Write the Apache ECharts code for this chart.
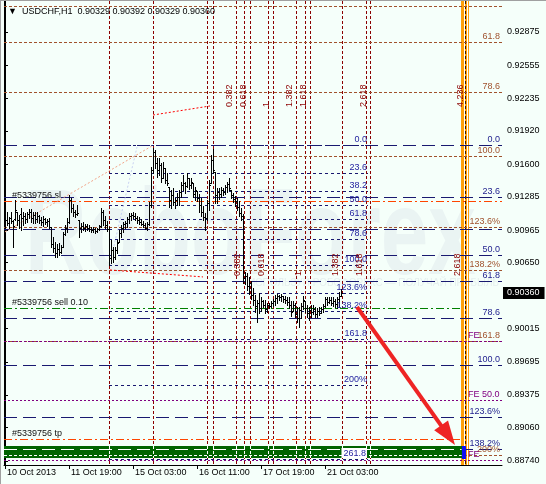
<!DOCTYPE html>
<html><head><meta charset="utf-8">
<script src="https://cdn.jsdelivr.net/npm/echarts@6.0.0/dist/echarts.min.js"></script>
<style>
html,body{margin:0;padding:0;background:#F5FFFA;overflow:hidden;}
#frame{position:absolute;left:0;top:0;width:546px;height:484px;box-sizing:border-box;border-left:1px solid #A0A0A0;border-top:1px solid #A0A0A0;}
#chart{position:absolute;left:1px;top:1px;width:545px;height:483px;}
</style></head><body><div id="frame"></div><div id="chart"></div>
<script>
// ---------------- DATA ----------------
const symbolName = 'USDCHF,H1';
const barOpen = [0.91110,0.91062,0.91033,0.91082,0.91053,0.91072,0.91139,0.91062,0.91120,0.91082,
0.91101,0.91072,0.91120,0.91139,0.91082,0.91110,0.91072,0.91101,0.91062,0.91043,
0.91072,0.91043,0.91053,0.90995,0.90831,0.90792,0.90744,0.90783,0.90754,0.90802,
0.90927,0.90985,0.91043,0.91255,0.91178,0.91139,0.91120,0.91062,0.90985,0.91004,
0.90985,0.91004,0.90985,0.90976,0.90966,0.90976,0.90956,0.90976,0.91004,0.91139,
0.91062,0.91014,0.90976,0.90696,0.90773,0.90706,0.90773,0.90850,0.90937,0.90985,
0.91024,0.91033,0.91072,0.91101,0.91110,0.91101,0.91082,0.91062,0.91043,0.91024,
0.91014,0.90985,0.91024,0.91207,0.91544,0.91718,0.91612,0.91544,0.91592,0.91467,
0.91563,0.91448,0.91380,0.91255,0.91303,0.91236,0.91255,0.91284,0.91332,0.91400,
0.91419,0.91390,0.91467,0.91400,0.91419,0.91313,0.91342,0.91274,0.91207,0.91139,
0.91091,0.91082,0.91226,0.91419,0.91641,0.91525,0.91303,0.91332,0.91313,0.91351,
0.91332,0.91380,0.91409,0.91351,0.91303,0.91265,0.91245,0.91188,0.91130,0.91101,
0.90503,0.90522,0.90426,0.90455,0.90339,0.90291,0.90233,0.90262,0.90214,0.90281,
0.90243,0.90204,0.90243,0.90233,0.90262,0.90281,0.90310,0.90329,0.90320,0.90329,
0.90301,0.90291,0.90272,0.90243,0.90185,0.90243,0.90156,0.90117,0.90195,0.90233,
0.90281,0.90214,0.90166,0.90195,0.90175,0.90204,0.90156,0.90185,0.90166,0.90204,
0.90233,0.90301,0.90272,0.90291,0.90262,0.90281,0.90252,0.90301,0.90329];
const barHigh = [0.91178,0.91139,0.91091,0.91139,0.91062,0.91255,0.91139,0.91110,0.91178,0.91139,
0.91130,0.91139,0.91168,0.91168,0.91139,0.91139,0.91139,0.91110,0.91091,0.91101,
0.91082,0.91072,0.91082,0.90995,0.90898,0.90850,0.90831,0.90841,0.90821,0.90947,
0.91014,0.91082,0.91303,0.91274,0.91217,0.91159,0.91207,0.91062,0.91033,0.91043,
0.91024,0.91024,0.91014,0.90995,0.90995,0.90985,0.90985,0.91014,0.91178,0.91159,
0.91101,0.91053,0.90995,0.90869,0.90802,0.90802,0.90869,0.90966,0.91014,0.91043,
0.91053,0.91091,0.91130,0.91130,0.91139,0.91130,0.91101,0.91091,0.91072,0.91053,
0.91033,0.91043,0.91236,0.91573,0.91756,0.91737,0.91660,0.91660,0.91612,0.91621,
0.91563,0.91515,0.91380,0.91351,0.91371,0.91274,0.91323,0.91351,0.91429,0.91496,
0.91429,0.91515,0.91467,0.91467,0.91419,0.91380,0.91342,0.91313,0.91274,0.91197,
0.91130,0.91255,0.91448,0.91689,0.91747,0.91525,0.91371,0.91371,0.91380,0.91371,
0.91400,0.91429,0.91467,0.91351,0.91323,0.91294,0.91274,0.91245,0.91178,0.91120,
0.90561,0.90551,0.90513,0.90474,0.90407,0.90339,0.90291,0.90358,0.90320,0.90291,
0.90291,0.90262,0.90262,0.90281,0.90301,0.90339,0.90349,0.90339,0.90349,0.90329,
0.90329,0.90320,0.90320,0.90281,0.90281,0.90262,0.90223,0.90223,0.90262,0.90329,
0.90281,0.90243,0.90223,0.90243,0.90243,0.90223,0.90214,0.90223,0.90223,0.90252,
0.90320,0.90320,0.90320,0.90320,0.90320,0.90301,0.90320,0.90368,0.90392];
const barLow = [0.90995,0.91014,0.90985,0.91033,0.90802,0.91062,0.91014,0.90985,0.90966,0.91014,
0.91033,0.91043,0.91082,0.91043,0.91033,0.91033,0.91043,0.91033,0.91014,0.91004,
0.91024,0.91004,0.90985,0.90802,0.90754,0.90706,0.90706,0.90725,0.90744,0.90802,
0.90918,0.90947,0.91033,0.91139,0.91101,0.91091,0.91110,0.90898,0.90947,0.90966,
0.90956,0.90966,0.90956,0.90947,0.90947,0.90937,0.90947,0.90966,0.90995,0.91014,
0.90985,0.90956,0.90628,0.90648,0.90657,0.90686,0.90744,0.90850,0.90898,0.90947,
0.90985,0.90995,0.91033,0.91062,0.91082,0.91062,0.91033,0.91024,0.91014,0.90995,
0.90976,0.90966,0.91014,0.91188,0.91515,0.91563,0.91477,0.91496,0.91429,0.91467,
0.91419,0.91400,0.91188,0.91178,0.91207,0.91178,0.91207,0.91207,0.91284,0.91351,
0.91323,0.91380,0.91361,0.91371,0.91284,0.91255,0.91245,0.91139,0.91101,0.91062,
0.90966,0.91062,0.91159,0.91419,0.91515,0.91226,0.91226,0.91265,0.91284,0.91303,
0.91313,0.91332,0.91351,0.91274,0.91236,0.91197,0.91159,0.91101,0.91062,0.90455,
0.90445,0.90387,0.90349,0.90301,0.90243,0.90175,0.90079,0.90166,0.90185,0.90223,
0.90166,0.90175,0.90214,0.90223,0.90233,0.90243,0.90262,0.90291,0.90281,0.90272,
0.90262,0.90243,0.90214,0.90137,0.90185,0.90127,0.90079,0.90031,0.90117,0.90204,
0.90175,0.90127,0.90098,0.90127,0.90156,0.90127,0.90127,0.90146,0.90166,0.90175,
0.90223,0.90243,0.90262,0.90243,0.90233,0.90223,0.90214,0.90223,0.90329];
const barClose = [0.91062,0.91033,0.91082,0.91053,0.91004,0.91159,0.91062,0.91120,0.91082,0.91101,
0.91072,0.91120,0.91139,0.91082,0.91110,0.91072,0.91101,0.91062,0.91043,0.91072,
0.91043,0.91053,0.90995,0.90831,0.90792,0.90744,0.90783,0.90754,0.90802,0.90927,
0.90985,0.91043,0.91255,0.91178,0.91139,0.91120,0.91130,0.90985,0.91004,0.90985,
0.91004,0.90985,0.90976,0.90966,0.90976,0.90956,0.90976,0.91004,0.91139,0.91062,
0.91014,0.90976,0.90696,0.90773,0.90706,0.90773,0.90841,0.90937,0.90985,0.91024,
0.91033,0.91072,0.91101,0.91110,0.91101,0.91082,0.91062,0.91043,0.91024,0.91014,
0.90985,0.91024,0.91207,0.91544,0.91718,0.91612,0.91544,0.91592,0.91467,0.91563,
0.91448,0.91419,0.91255,0.91303,0.91236,0.91255,0.91284,0.91332,0.91400,0.91419,
0.91390,0.91467,0.91400,0.91429,0.91313,0.91351,0.91274,0.91207,0.91139,0.91091,
0.91082,0.91226,0.91400,0.91641,0.91544,0.91303,0.91332,0.91313,0.91351,0.91332,
0.91380,0.91409,0.91371,0.91303,0.91265,0.91245,0.91188,0.91130,0.91101,0.90503,
0.90522,0.90426,0.90455,0.90339,0.90291,0.90233,0.90262,0.90214,0.90281,0.90243,
0.90204,0.90243,0.90233,0.90262,0.90281,0.90310,0.90329,0.90320,0.90329,0.90301,
0.90291,0.90272,0.90243,0.90175,0.90243,0.90156,0.90117,0.90195,0.90233,0.90291,
0.90214,0.90166,0.90195,0.90175,0.90204,0.90156,0.90185,0.90166,0.90204,0.90233,
0.90301,0.90272,0.90291,0.90262,0.90281,0.90252,0.90301,0.90329,0.90360];

const xTickIndex = [0, 32, 64, 96, 128, 160];
const xTickLabels = ['10 Oct 2013', '11 Oct 19:00', '15 Oct 03:00', '16 Oct 11:00', '17 Oct 19:00', '21 Oct 03:00'];
const yTickValues = [0.88740, 0.89060, 0.89375, 0.89695, 0.90015, 0.90650, 0.90965, 0.91285, 0.91600, 0.91920, 0.92235, 0.92555, 0.92875];

// Fibonacci retracement A (sienna)
const fibALabels = ['', '61.8', '78.6', '100.0', '123.6%', '138.2%', '161.8', '200%'];
const fibAPrices = [0.93120, 0.92780, 0.92296, 0.91679, 0.90999, 0.90578, 0.89898, 0.88797];
// Fibonacci retracement B (navy, long dash)
const fibBLabels = ['0.0', '23.6', '', '50.0', '61.8', '78.6', '100.0', '123.6%', '138.2%'];
const fibBPrices = [0.91785, 0.91284, 0.90974, 0.90724, 0.90474, 0.90117, 0.89663, 0.89162, 0.88852];
// Fibonacci retracement C (navy, short dash, limited span)
const fibCLabels = ['0.0', '23.6', '38.2', '50.0', '61.8', '78.6', '100.0', '123.6%', '138.2%', '161.8', '200%', '261.8'];
const fibCPrices = [0.91785, 0.91512, 0.91345, 0.91207, 0.91070, 0.90876, 0.90628, 0.90355, 0.90186, 0.89913, 0.89471, 0.88756];
const fibCSpan = [52, 181.5];
// Fibonacci expansion (purple)
const feLabels = ['FE', 'FE 50.0', 'FE'];
const fePrices = [0.89896, 0.89327, 0.88749];
// order lines
const orderLabels = ['#5339756 sl', '#5339756 sell 0.10', '#5339756 tp'];
const orderPrices = [0.91245, 0.90214, 0.88951];
const orderEnd = [null, 228.3, 228.3];
// time zones (bar index)
const anchorBars = [52, 74];
const tzALabels = ['', '0.382', '0.618', '1', '1.382', '1.618', '2.618', '4.236'];
const tzABars = [104, 115.5, 122.5, 134, 145.5, 152.5, 182.5, 231];
const tzBLabels = ['', '0.382', '0.618', '1', '1.382', '1.618', '2.618'];
const tzBBars = [101, 119.7, 131.3, 150, 168.7, 180.3, 229.3];
const tzALabelPrice = 0.92152, tzBLabelPrice = 0.90522;
// trend lines [x1, p1, x2, p2]
const trendRed = [[74, 0.92074, 102.5, 0.92161], [52.5, 0.90580, 99, 0.90513]];
const trendSalmon = [[0, 0.90947, 73.5, 0.91776]];
const trendLavender = [[54, 0.90773, 66, 0.91766]];
const arrowSeg = [176, 0.90223, 225, 0.88893];
// rectangles [x1, x2, pTop, pBottom]
const greenZone = [-0.5, 228.3, 0.88884, 0.88778];
const blueZone = [228.3, 230.5, 0.88884, 0.88778];
const orangeZone = [228, 232];

// ---------------- CHART ----------------
const X_MIN = -0.5, X_MAX = 248.5, Y_MIN = 0.88700, Y_MAX = 0.93173;
const FONT = '9px "Liberation Sans", Arial, sans-serif';
const NAVY = '#191970', BROWN = '#A0522D', PURPLE = '#800080', DRED = '#8B0000';
const crisp = v => Math.round(v) + 0.5;
const lastIdx = barClose.length - 1;
const lastPrice = barClose[lastIdx];

const hItems = [];
fibAPrices.forEach(p => hItems.push({p, color: BROWN, dash: [3, 2]}));
fibBPrices.forEach(p => hItems.push({p, color: NAVY, dash: [13, 6]}));
fibCPrices.forEach(p => hItems.push({p, color: NAVY, dash: [3, 3], x1: fibCSpan[0], x2: fibCSpan[1]}));
fePrices.forEach(p => hItems.push({p, color: PURPLE, dash: [2, 2]}));
const orderColors = ['#FF4500', '#008000', '#FF4500'];
orderPrices.forEach((p, i) => hItems.push({p, color: orderColors[i], dash: [8, 3, 2, 3], x2: orderEnd[i]}));

const vBars = anchorBars.concat(tzABars, tzBBars);

function hLineSeries(items, z) {
  return {type: 'custom', silent: true, z, data: items.map((it, i) => [X_MIN, it.p, i]),
    renderItem(params, api) {
      const it = items[params.dataIndex], cs = params.coordSys;
      const y = crisp(api.coord([X_MIN, it.p])[1]);
      const xa = it.x1 == null ? cs.x : api.coord([it.x1, it.p])[0];
      const xb = it.x2 == null ? cs.x + cs.width : api.coord([it.x2, it.p])[0];
      return {type: 'line', shape: {x1: xa, y1: y, x2: xb, y2: y}, style: {stroke: it.color, lineWidth: 1, lineDash: it.dash}};
    }};
}
function segSeries(segs, color, dash, z) {
  return {type: 'custom', silent: true, z, data: segs.map(s => [s[0], s[1], s[2], s[3]]),
    renderItem(params, api) {
      const a = api.coord([api.value(0), api.value(1)]), b = api.coord([api.value(2), api.value(3)]);
      return {type: 'line', shape: {x1: a[0], y1: a[1], x2: b[0], y2: b[1]}, style: {stroke: color, lineWidth: 1, lineDash: dash}};
    }};
}
function inOrange(b) { return b > orangeZone[0] && b < orangeZone[1]; }
const vLineSeries = {type: 'custom', silent: true, z: 2, data: vBars.map(b => [b, Y_MIN]),
  renderItem(params, api) {
    const cs = params.coordSys, b = api.value(0);
    const x = crisp(api.coord([b, Y_MIN])[0]);
    const sel = inOrange(b);
    return {type: 'line', shape: {x1: x, y1: cs.y, x2: x, y2: cs.y + cs.height},
      style: {stroke: sel ? '#FFFFFF' : DRED, lineWidth: 1, lineDash: sel ? null : [3, 2]}};
  }};
const orangeSeries = {type: 'custom', silent: true, z: 1, data: [[orangeZone[0], Y_MIN]],
  renderItem(params, api) {
    const cs = params.coordSys;
    const xa = api.coord([orangeZone[0], Y_MIN])[0], xb = api.coord([orangeZone[1], Y_MIN])[0];
    const xm = crisp((xa + xb) / 2);
    return {type: 'group', children: [
      {type: 'rect', shape: {x: Math.round(xa), y: cs.y, width: Math.round(xb) - Math.round(xa), height: cs.height}, style: {fill: '#FF9F0A'}},
      {type: 'line', shape: {x1: xm, y1: cs.y, x2: xm, y2: cs.y + cs.height}, style: {stroke: '#3A1A00', lineWidth: 1, lineDash: [3, 2]}}
    ]};
  }};
const greenSeries = {type: 'custom', silent: true, z: 4, data: [[greenZone[0], greenZone[2]]],
  renderItem(params, api) {
    const a = api.coord([greenZone[0], greenZone[2]]), b = api.coord([greenZone[1], greenZone[3]]);
    const c = api.coord([blueZone[0], blueZone[2]]), d = api.coord([blueZone[1], blueZone[3]]);
    const top = Math.round(a[1]), bot = Math.round(b[1]) + 1;
    const kids = [
      {type: 'rect', shape: {x: Math.round(a[0]), y: top, width: Math.round(b[0]) - Math.round(a[0]), height: bot - top}, style: {fill: '#006400'}},
      {type: 'rect', shape: {x: Math.round(c[0]), y: top, width: Math.round(d[0]) - Math.round(c[0]), height: bot - top + 1}, style: {fill: '#1010F0'}}
    ];
    hItems.forEach(it => {
      if (it.p < greenZone[2] && it.p > greenZone[3]) {
        const y = crisp(api.coord([0, it.p])[1]);
        kids.push({type: 'line', shape: {x1: a[0], y1: y, x2: b[0], y2: y}, style: {stroke: '#FFFFFF', lineWidth: 1, lineDash: it.dash}});
      }
    });
    vBars.forEach(v => {
      if (v > greenZone[0] && v < greenZone[1]) {
        const x = crisp(api.coord([v, 0.9])[0]);
        kids.push({type: 'line', shape: {x1: x, y1: top, x2: x, y2: bot}, style: {stroke: '#FFFFFF', lineWidth: 1, lineDash: [3, 2]}});
      }
    });
    return {type: 'group', children: kids};
  }};
const barSeries = {type: 'custom', silent: true, z: 5,
  data: barOpen.map((o, i) => [i, o, barClose[i], barLow[i], barHigh[i]]),
  renderItem(params, api) {
    const i = api.value(0);
    const h = api.coord([i, api.value(4)]), l = api.coord([i, api.value(3)]);
    const o = api.coord([i, api.value(1)]), c = api.coord([i, api.value(2)]);
    const x = crisp(h[0]);
    const yo = crisp(o[1]), yc = crisp(c[1]);
    return {type: 'group', children: [
      {type: 'line', shape: {x1: x, y1: Math.round(h[1]), x2: x, y2: Math.round(l[1]) + 1}, style: {stroke: '#000', lineWidth: 1}},
      {type: 'line', shape: {x1: x - 1.5, y1: yo, x2: x - 0.5, y2: yo}, style: {stroke: '#000', lineWidth: 1}},
      {type: 'line', shape: {x1: x + 0.5, y1: yc, x2: x + 1.5, y2: yc}, style: {stroke: '#000', lineWidth: 1}}
    ]};
  }};
function textSeries(items, z) {
  return {type: 'custom', silent: true, z, data: items.map((it, i) => [it.x, it.p, i]),
    renderItem(params, api) {
      const it = items[params.dataIndex];
      const c = api.coord([it.x, it.p]);
      const st = {text: it.text, fill: it.color, font: it.font || FONT, align: it.align || 'right', verticalAlign: it.va || 'bottom'};
      if (it.bg) { st.backgroundColor = it.bg; st.padding = it.pad; }
      return {type: 'text', x: Math.round(c[0]) + (it.dx || 0), y: Math.round(c[1]) + (it.dy || 0), rotation: it.rot || 0, style: st};
    }};
}
const texts = [];
fibALabels.forEach((t, i) => t && texts.push({x: X_MAX, p: fibAPrices[i], text: t, color: BROWN, dx: -2, dy: -1}));
fibBLabels.forEach((t, i) => t && texts.push({x: X_MAX, p: fibBPrices[i], text: t, color: '#23238F', dx: -2, dy: -1}));
fibCLabels.forEach((t, i) => texts.push({x: fibCSpan[1], p: fibCPrices[i], text: t, color: '#2525A0', dx: -1, dy: -1,
  bg: t === '261.8' ? '#FFFFFF' : null, pad: [1, 1, 0, 2]}));
feLabels.forEach((t, i) => texts.push({x: orangeZone[1], p: fePrices[i], text: t, color: PURPLE, align: 'left', dx: -1, dy: -1}));
orderLabels.forEach((t, i) => texts.push({x: X_MIN, p: orderPrices[i], text: t, color: '#111', align: 'left', dx: 8, dy: -1}));
tzALabels.forEach((t, i) => t && texts.push({x: tzABars[i], p: tzALabelPrice, text: t, color: DRED, align: 'left', va: 'bottom', rot: Math.PI / 2, dx: -2}));
tzBLabels.forEach((t, i) => t && texts.push({x: tzBBars[i], p: tzBLabelPrice, text: t, color: DRED, align: 'left', va: 'bottom', rot: Math.PI / 2, dx: -2}));
const priceBox = textSeries([{x: X_MAX, p: lastPrice, text: lastPrice.toFixed(5), color: '#FFFFFF', align: 'left', va: 'middle',
  dx: 1, bg: '#000000', pad: [2, 5, 1, 4]}], 8);

const arrowSeries = {type: 'custom', silent: true, z: 7, data: [arrowSeg],
  renderItem(params, api) {
    const a = api.coord([api.value(0), api.value(1)]), b = api.coord([api.value(2), api.value(3)]);
    const dx = b[0] - a[0], dy = b[1] - a[1], len = Math.hypot(dx, dy), ux = dx / len, uy = dy / len;
    const L = 24, W = 8.5;
    const bx = b[0] - ux * L, by = b[1] - uy * L;
    return {type: 'group', children: [
      {type: 'line', shape: {x1: a[0], y1: a[1], x2: bx + ux * 2, y2: by + uy * 2}, style: {stroke: '#EE2424', lineWidth: 4}},
      {type: 'polygon', shape: {points: [[b[0], b[1]], [bx - uy * W, by + ux * W], [bx + uy * W, by - ux * W]]}, style: {fill: '#EE2424'}}
    ]};
  }};

const lb = barOpen.length - 1;
const titleText = '\u25BC  ' + symbolName + '  ' + [barOpen[lb], barHigh[lb], barLow[lb], barClose[lb]].map(v => v.toFixed(5)).join(' ');

const chart = echarts.init(document.getElementById('chart'), null, {renderer: 'canvas'});
chart.setOption({
  animation: false,
  backgroundColor: '#F5FFFA',
  textStyle: {fontFamily: '"Liberation Sans", Arial, sans-serif'},
  title: {text: titleText, left: 7, top: 6, padding: 0, textStyle: {fontSize: 9, fontWeight: 'normal', color: '#000'}},
  graphic: [
    {type: 'text', x: 24, y: 178, z: -10, scaleX: 0.70, silent: true,
      style: {text: 'RoboForex', font: 'bold 122px "Liberation Sans", Arial', fill: '#EAF4F3'}},
    {type: 'text', x: 498, y: 277, z: -10, silent: true,
      style: {text: 'ИСПОЛЬЗУЙ РОБОФОРЕКС — ПОЛУЧАЙ ПРИБЫЛЬ', align: 'right', font: '10px "Liberation Sans", Arial', fill: '#E6F0EF'}}
  ],
  grid: {left: 3, top: 0, width: 498, height: 464, show: false},
  xAxis: {type: 'value', min: X_MIN, max: X_MAX,
    axisLine: {show: true, onZero: false, lineStyle: {color: '#000', width: 1}},
    axisTick: {show: true, customValues: xTickIndex, length: 4, lineStyle: {color: '#000'}},
    axisLabel: {show: true, customValues: xTickIndex, formatter: v => xTickLabels[xTickIndex.indexOf(v)],
      align: 'left', margin: 3, padding: [0, 0, 0, 2], color: '#000', fontSize: 9},
    splitLine: {show: false}},
  yAxis: [
    {type: 'value', position: 'right', min: Y_MIN, max: Y_MAX,
      axisLine: {show: true, lineStyle: {color: '#000', width: 1}},
      axisTick: {show: true, customValues: yTickValues, length: 3, lineStyle: {color: '#000'}},
      axisLabel: {show: true, customValues: yTickValues, formatter: v => v.toFixed(5), margin: 5, color: '#000', fontSize: 9},
      splitLine: {show: false}},
    {type: 'value', position: 'left', min: Y_MIN, max: Y_MAX,
      axisLine: {show: true, lineStyle: {color: '#000', width: 1}},
      axisTick: {show: false}, axisLabel: {show: false}, splitLine: {show: false}}
  ],
  series: [
    orangeSeries,
    vLineSeries,
    hLineSeries(hItems, 3),
    segSeries(trendRed, '#FF0000', [2, 2], 3),
    segSeries(trendSalmon, '#F2A488', [2, 2], 3),
    segSeries(trendLavender, '#C9D2F2', [2, 2], 3),
    greenSeries,
    barSeries,
    textSeries(texts, 6),
    arrowSeries,
    priceBox
  ]
});
</script></body></html>
